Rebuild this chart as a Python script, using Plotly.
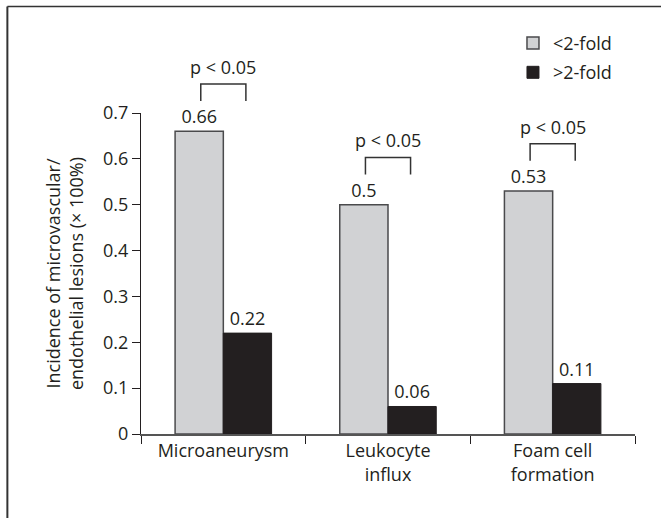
import plotly.graph_objects as go

categories = ["Microaneurysm", "Leukocyte<br>influx", "Foam cell<br>formation"]
low_fold = [0.66, 0.50, 0.53]
high_fold = [0.22, 0.06, 0.11]
series_names = ["<2-fold", ">2-fold"]
p_labels = ["p < 0.05", "p < 0.05", "p < 0.05"]
y_ticks = [0, 0.1, 0.2, 0.3, 0.4, 0.5, 0.6, 0.7]
y_title = "Incidence of microvascular/<br>endothelial lesions (× 100%)"

FONT = "Open Sans"
INK = "#231f20"
LIGHT = "#d1d2d4"
YMAX = 0.7

fig = go.Figure()
fig.add_trace(go.Bar(
    x=categories, y=low_fold, name=series_names[0], legendgroup="a",
    marker=dict(color=LIGHT, line=dict(color="#4a4a4c", width=1.5)),
    text=[f"{v:g}" for v in low_fold], textposition="outside",
    textfont=dict(family=FONT, size=18, color=INK), cliponaxis=False,
))
fig.add_trace(go.Bar(
    x=categories, y=high_fold, name=series_names[1], legendgroup="b",
    marker=dict(color=INK, line=dict(color=INK, width=1)),
    text=[f"{v:g}" for v in high_fold], textposition="outside",
    textfont=dict(family=FONT, size=18, color=INK), cliponaxis=False,
))

shapes = []
annotations = []
half = 0.137
for i, v in enumerate(low_fold):
    yb = (v + 0.066) / YMAX
    yt = (v + 0.103) / YMAX
    shapes.append(dict(type="path", xref="x", yref="paper",
                       path=f"M {i-half},{yb} L {i-half},{yt} L {i+half},{yt} L {i+half},{yb}",
                       line=dict(color="#333333", width=1.5)))
    annotations.append(dict(xref="x", yref="paper", x=i, y=yt, yanchor="bottom",
                            text=p_labels[i], showarrow=False, yshift=3,
                            font=dict(family=FONT, size=18, color=INK)))

# outer frame (top and left edges)
shapes.append(dict(type="line", xref="paper", yref="paper", x0=-0.2705, x1=1.2, y0=1.332, y1=1.332,
                   line=dict(color="#333333", width=1.5)))
shapes.append(dict(type="line", xref="paper", yref="paper", x0=-0.2705, x1=-0.2705, y0=1.332, y1=-0.3,
                   line=dict(color="#333333", width=2)))

fig.update_layout(
    width=661, height=518,
    margin=dict(l=141, r=26, t=113, b=84),
    paper_bgcolor="white", plot_bgcolor="white",
    barmode="group", bargap=0.414, bargroupgap=0,
    font=dict(family=FONT, size=18, color=INK),
    showlegend=True,
    legend=dict(x=0.753, y=1.275, xanchor="left", yanchor="top",
                font=dict(family=FONT, size=18, color=INK),
                traceorder="grouped", tracegroupgap=3,
                bgcolor="rgba(0,0,0,0)", itemwidth=30),
    shapes=shapes, annotations=annotations,
)
fig.update_xaxes(
    type="category", showline=True, linecolor="#555555", linewidth=1.5,
    ticks="outside", tickson="boundaries", ticklen=8, tickcolor=INK, tickwidth=1,
    showgrid=False, zeroline=False,
    tickfont=dict(family=FONT, size=18, color=INK),
)
fig.update_yaxes(
    range=[0, YMAX], tickvals=y_ticks, ticktext=[f"{t:g}" for t in y_ticks],
    showline=True, linecolor=INK, linewidth=1.2,
    ticks="outside", ticklen=8, tickcolor=INK, tickwidth=1,
    showgrid=False, zeroline=False,
    tickfont=dict(family=FONT, size=18, color=INK),
    title=dict(text=y_title, font=dict(family=FONT, size=18, color=INK), standoff=14),
)

fig.write_html("out.html")
